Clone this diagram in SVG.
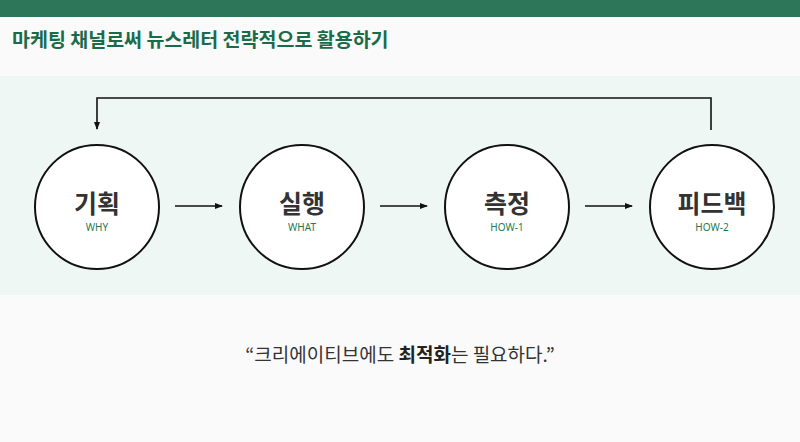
<svg xmlns="http://www.w3.org/2000/svg" width="800" height="442" viewBox="0 0 800 442">
<defs>
<marker id="ah" markerWidth="8" markerHeight="8" refX="7" refY="4" orient="auto" markerUnits="userSpaceOnUse">
<path d="M0,1 L8,4 L0,7 Z" fill="#111"/>
</marker>
<style>
.node circle{fill:#fff;stroke:#111;stroke-width:2}
.lbl{font-family:"Noto Sans CJK KR","Noto Sans",sans-serif;font-weight:700;font-size:25px;fill:#333;text-anchor:middle}
.sub{font-family:"Noto Sans","Noto Sans CJK KR",sans-serif;font-size:10px;fill:#1e7a52;text-anchor:middle}
.conn{stroke:#111;stroke-width:1.6;fill:none}
</style>
</defs>
<rect x="0" y="0" width="800" height="442" fill="#fafafa"/>
<rect x="0" y="0" width="800" height="17" fill="#2d7659"/>
<rect x="0" y="76" width="800" height="219" fill="#eef7f4"/>
<text x="12" y="47" font-family="'Noto Sans CJK KR','Noto Sans',sans-serif" font-weight="700" font-size="19.5" fill="#1b6b48">마케팅 채널로써 뉴스레터 전략적으로 활용하기</text>
<g id="connectors">
<line class="conn" x1="175" y1="206" x2="222" y2="206" marker-end="url(#ah)"/>
<line class="conn" x1="380" y1="206" x2="427" y2="206" marker-end="url(#ah)"/>
<line class="conn" x1="585" y1="206" x2="632" y2="206" marker-end="url(#ah)"/>
<polyline class="conn" points="711,130 711,98 97,98 97,129" marker-end="url(#ah)"/>
</g>
<g id="node-plan" class="node">
<circle cx="97" cy="207" r="62"/>
<text class="lbl" x="97" y="213">기획</text>
<text class="sub" x="97" y="231">WHY</text>
</g>
<g id="node-exec" class="node">
<circle cx="302" cy="207" r="62"/>
<text class="lbl" x="302" y="213">실행</text>
<text class="sub" x="302" y="231">WHAT</text>
</g>
<g id="node-measure" class="node">
<circle cx="507" cy="207" r="62"/>
<text class="lbl" x="507" y="213">측정</text>
<text class="sub" x="507" y="231">HOW-1</text>
</g>
<g id="node-feedback" class="node">
<circle cx="712" cy="207" r="62"/>
<text class="lbl" x="712" y="213">피드백</text>
<text class="sub" x="712" y="231">HOW-2</text>
</g>
<text x="400" y="362" text-anchor="middle" font-family="'Noto Sans CJK KR','Noto Sans',sans-serif" font-size="19" fill="#333">“크리에이티브에도 <tspan font-weight="700" fill="#222">최적화</tspan>는 필요하다.”</text>
</svg>
